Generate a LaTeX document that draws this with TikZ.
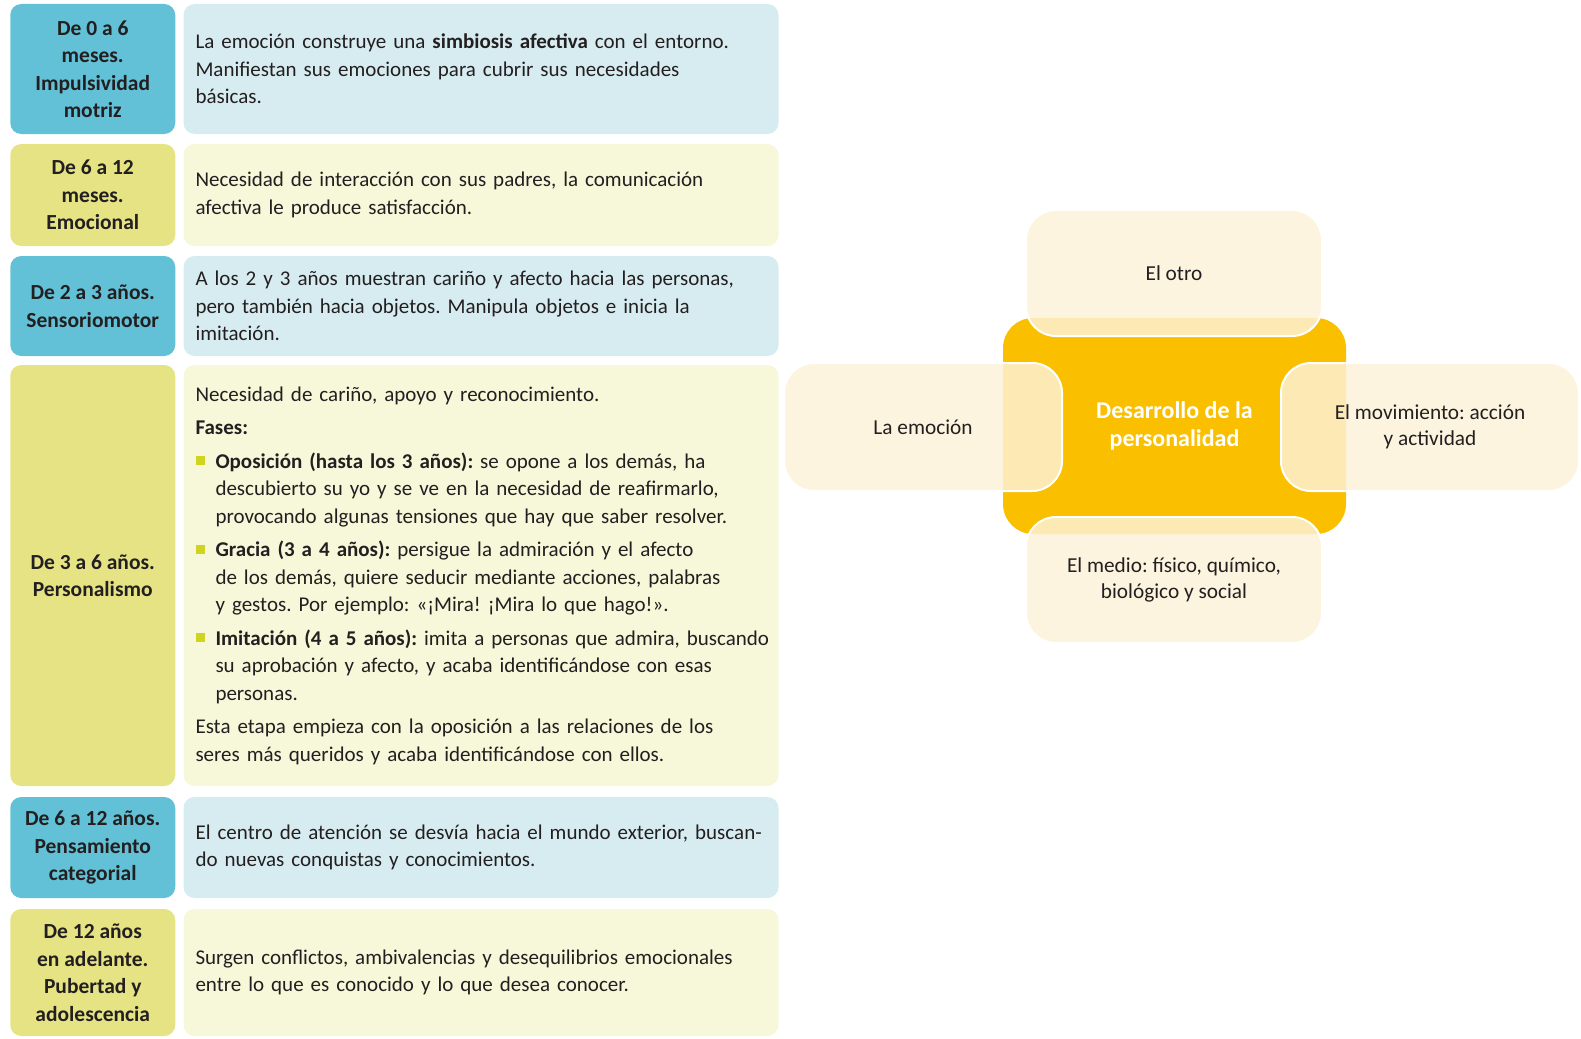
\documentclass[tikz,border=0pt]{standalone}
\usepackage{fontspec}
\setmainfont{Carlito}
\usepackage{xcolor}
\usepackage{tikz}
\definecolor{ageblue}{HTML}{62C1D6}
\definecolor{infoblue}{HTML}{D7ECF1}
\definecolor{ageyellow}{HTML}{E6E385}
\definecolor{infoyellow}{HTML}{F7F7D9}
\definecolor{core}{HTML}{FAC000}
\definecolor{petal}{HTML}{FDF2D8}
\definecolor{sq}{HTML}{CFD420}
\definecolor{ink}{HTML}{231F20}
\newcommand{\sqitem}{\makebox[20pt][l]{\textcolor{sq}{\rule[3pt]{9pt}{9pt}}}}
\newcommand{\sqgap}{\hspace*{20pt}}
\frenchspacing

\begin{document}
\begin{tikzpicture}[x=1pt, y=-1pt, text=ink,
    agebox/.style={rounded corners=11pt, inner sep=0pt, minimum width=165pt, align=center,
      font=\fontsize{21.5}{27.5}\selectfont\bfseries},
    infobox/.style={rounded corners=11pt, inner xsep=12pt, inner ysep=0pt, text width=571pt, align=left,
      font=\fontsize{21}{27.5}\selectfont},
    petalbox/.style={rounded corners=30pt, fill=petal, fill opacity=0.83, text opacity=1, draw=white,
      line width=2pt, align=center, font=\fontsize{21.3}{26.5}\selectfont}]
  \useasboundingbox (0,0) rectangle (1581,1038);

  % ages
  \node[agebox, fill=ageblue, minimum height=130pt] (L1) at (92.75,69) {De 0 a 6\\meses.\\Impulsividad\\motriz};
  \node[agebox, fill=ageyellow, minimum height=102pt] (L2) at (92.75,195) {De 6 a 12\\meses.\\Emocional};
  \node[agebox, fill=ageblue, minimum height=100pt] (L3) at (92.75,306) {De 2 a 3 años.\\Sensoriomotor};
  \node[agebox, fill=ageyellow, minimum height=421pt] (L4) at (92.75,575.5) {De 3 a 6 años.\\Personalismo};
  \node[agebox, fill=ageblue, minimum height=101pt] (L5) at (92.75,847.5) {De 6 a 12 años.\\Pensamiento\\categorial};
  \node[agebox, fill=ageyellow, minimum height=127pt] (L6) at (92.75,972.5) {De 12 años\\en adelante.\\Pubertad y\\adolescencia};

  % descriptions
  \node[infobox, fill=infoblue, minimum height=130pt] (T1) at (481,69) {La emoción construye una \textbf{simbiosis afectiva} con el entorno.\\
    Manifiestan sus emociones para cubrir sus necesidades\\básicas.};
  \node[infobox, fill=infoyellow, minimum height=102pt] (T2) at (481,195) {Necesidad de interacción con sus padres, la comunicación\\
    afectiva le produce satisfacción.};
  \node[infobox, fill=infoblue, minimum height=100pt] (T3) at (481,306) {A los 2 y 3 años muestran cariño y afecto hacia las personas,\\
    pero también hacia objetos. Manipula objetos e inicia la\\imitación.};
  \node[infobox, fill=infoyellow, minimum height=421pt] (T4) at (481,575.5) {Necesidad de cariño, apoyo y reconocimiento.\\[6pt]
    \textbf{Fases:}\\[6pt]
    \sqitem\textbf{Oposición (hasta los 3 años):} se opone a los demás, ha\\
    \sqgap descubierto su yo y se ve en la necesidad de reafirmarlo,\\
    \sqgap provocando algunas tensiones que hay que saber resolver.\\[6pt]
    \sqitem\textbf{Gracia (3 a 4 años):} persigue la admiración y el afecto\\
    \sqgap de los demás, quiere seducir mediante acciones, palabras\\
    \sqgap y gestos. Por ejemplo: «¡Mira! ¡Mira lo que hago!».\\[6pt]
    \sqitem\mbox{\textbf{Imitación (4 a 5 años):} imita a personas que admira, buscando}\\
    \sqgap su aprobación y afecto, y acaba identificándose con esas\\
    \sqgap personas.\\[6pt]
    Esta etapa empieza con la oposición a las relaciones de los\\
    seres más queridos y acaba identificándose con ellos.};
  \node[infobox, fill=infoblue, minimum height=101pt] (T5) at (481,847.5) {\mbox{El centro de atención se desvía hacia el mundo exterior, buscan-}\\
    do nuevas conquistas y conocimientos.};
  \node[infobox, fill=infoyellow, minimum height=127pt] (T6) at (481,972.5) {Surgen conflictos, ambivalencias y desequilibrios emocionales\\
    entre lo que es conocido y lo que desea conocer.};

  % personality
  \node[rounded corners=30pt, fill=core, minimum width=343pt, minimum height=216pt] (C) at (1174.5,426) {};
  \node[petalbox, minimum width=296pt, minimum height=126pt] (N) at (1174,273) {El otro};
  \node[petalbox, minimum width=296pt, minimum height=126pt] (S) at (1174,580) {El medio: físico, químico,\\biológico y social};
  \node[petalbox, minimum width=278pt, minimum height=128pt] (W) at (923,427) {La emoción};
  \node[petalbox, minimum width=298pt, minimum height=128pt] (E) at (1430,427) {El movimiento: acción\\y actividad};
  \node[text=white, align=center, font=\fontsize{24}{28}\selectfont\bfseries] at (C) {Desarrollo de la\\personalidad};
\end{tikzpicture}
\end{document}
